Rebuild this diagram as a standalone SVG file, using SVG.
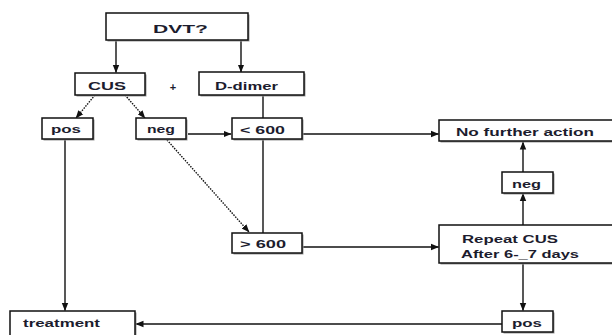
<svg xmlns="http://www.w3.org/2000/svg" width="612" height="335" viewBox="0 0 612 335">
<style>
.box{fill:#fff;stroke:#111;stroke-width:1.5}
.sh{fill:#999}
.t{font-family:"Liberation Sans",Arial,sans-serif;font-weight:bold;fill:#1c1c2e;font-size:11px}
.ln{fill:none;stroke:#111;stroke-width:1.4}
.dot{fill:none;stroke:#111;stroke-width:1.4;stroke-dasharray:1.5 1.2}
</style>
<defs>
<marker id="ah" markerUnits="userSpaceOnUse" markerWidth="8" markerHeight="8" viewBox="0 0 8 8" refX="7.5" refY="4" orient="auto">
<path d="M0,0.8 L8,4 L0,7.2 Z" fill="#111"/>
</marker>
</defs>
<rect width="612" height="335" fill="#fff"/>
<g id="connectors">
<line class="ln" x1="116" y1="40" x2="116" y2="72.5" marker-end="url(#ah)"/>
<line class="ln" x1="241" y1="40" x2="241" y2="72" marker-end="url(#ah)"/>
<line class="dot" x1="95" y1="95" x2="76" y2="118" marker-end="url(#ah)"/>
<line class="dot" x1="125" y1="95" x2="145" y2="118" marker-end="url(#ah)"/>
<line class="ln" x1="188" y1="134" x2="231" y2="134" marker-end="url(#ah)"/>
<line class="ln" x1="263" y1="95" x2="263" y2="118"/>
<line class="ln" x1="263" y1="139" x2="263" y2="233"/>
<line class="ln" x1="302" y1="134" x2="438.5" y2="134" marker-end="url(#ah)"/>
<line class="dot" x1="167" y1="140" x2="249" y2="232" marker-end="url(#ah)"/>
<line class="ln" x1="302" y1="247" x2="438.5" y2="247" marker-end="url(#ah)"/>
<line class="ln" x1="65" y1="139" x2="65" y2="310.5" marker-end="url(#ah)"/>
<line class="ln" x1="523" y1="172" x2="523" y2="142" marker-end="url(#ah)"/>
<line class="ln" x1="523" y1="225" x2="523" y2="193.5" marker-end="url(#ah)"/>
<line class="ln" x1="523" y1="263" x2="523" y2="310.5" marker-end="url(#ah)"/>
<line class="ln" x1="502" y1="324" x2="136" y2="324" marker-end="url(#ah)"/>
</g>
<g id="dvt">
<rect class="sh" x="107.5" y="14.5" width="142" height="27"/>
<rect class="box" x="106" y="13" width="142" height="27"/>
<text class="t" x="153" y="33" font-size="15" textLength="55" lengthAdjust="spacingAndGlyphs">DVT?</text>
</g>
<g id="cus">
<rect class="sh" x="76.5" y="74.5" width="70" height="22"/>
<rect class="box" x="75" y="73" width="70" height="22"/>
<text class="t" x="88" y="90" font-size="12" textLength="38" lengthAdjust="spacingAndGlyphs">CUS</text>
</g>
<g id="plus">
<text class="t" x="173" y="91" font-size="11" text-anchor="middle">+</text>
</g>
<g id="ddimer">
<rect class="sh" x="200.5" y="73.5" width="105" height="23"/>
<rect class="box" x="199" y="72" width="105" height="23"/>
<text class="t" x="215" y="90" textLength="63" lengthAdjust="spacingAndGlyphs">D-dimer</text>
</g>
<g id="pos1">
<rect class="sh" x="43.5" y="119.5" width="51" height="21"/>
<rect class="box" x="42" y="118" width="51" height="21"/>
<text class="t" x="51" y="133" textLength="30" lengthAdjust="spacingAndGlyphs">pos</text>
</g>
<g id="neg1">
<rect class="sh" x="137.5" y="119.5" width="50" height="21"/>
<rect class="box" x="136" y="118" width="50" height="21"/>
<text class="t" x="147" y="133" textLength="28" lengthAdjust="spacingAndGlyphs">neg</text>
</g>
<g id="lt600">
<rect class="sh" x="233.5" y="119.5" width="70" height="21"/>
<rect class="box" x="232" y="118" width="70" height="21"/>
<text class="t" x="240" y="134" textLength="45" lengthAdjust="spacingAndGlyphs">&lt; 600</text>
</g>
<g id="gt600">
<rect class="sh" x="233.5" y="234.5" width="70" height="20"/>
<rect class="box" x="232" y="233" width="70" height="20"/>
<text class="t" x="240" y="248" textLength="46" lengthAdjust="spacingAndGlyphs">&gt; 600</text>
</g>
<g id="nofurther">
<rect class="sh" x="440.5" y="121.5" width="175" height="21"/>
<rect class="box" x="439" y="120" width="175" height="21"/>
<text class="t" x="456" y="136" textLength="138" lengthAdjust="spacingAndGlyphs">No further action</text>
</g>
<g id="neg2">
<rect class="sh" x="503.5" y="173.5" width="51" height="21"/>
<rect class="box" x="502" y="172" width="51" height="21"/>
<text class="t" x="512" y="188" textLength="29" lengthAdjust="spacingAndGlyphs">neg</text>
</g>
<g id="repeat">
<rect class="sh" x="440.5" y="226.5" width="175" height="38"/>
<rect class="box" x="439" y="225" width="175" height="38"/>
<text class="t" x="462" y="243" textLength="96" lengthAdjust="spacingAndGlyphs">Repeat CUS</text>
<text class="t" x="461" y="258" font-size="10" textLength="118" lengthAdjust="spacingAndGlyphs">After 6-_7  days</text>
</g>
<g id="treatment">
<rect class="sh" x="11.5" y="312.5" width="125" height="30"/>
<rect class="box" x="10" y="311" width="125" height="30"/>
<text class="t" x="23" y="327" textLength="77" lengthAdjust="spacingAndGlyphs">treatment</text>
</g>
<g id="pos2">
<rect class="sh" x="503.5" y="312.5" width="51" height="21"/>
<rect class="box" x="502" y="311" width="51" height="21"/>
<text class="t" x="512" y="327" textLength="30" lengthAdjust="spacingAndGlyphs">pos</text>
</g>
</svg>
